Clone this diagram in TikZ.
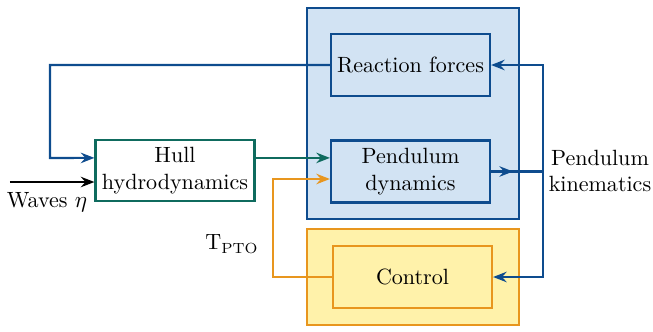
\documentclass[tikz,border=0pt]{standalone}
\usetikzlibrary{arrows.meta,calc}
\definecolor{dblue}{HTML}{0E4C8E}
\definecolor{lblue}{HTML}{D2E3F3}
\definecolor{dgreen}{HTML}{0F6B5E}
\definecolor{orng}{HTML}{E8961E}
\definecolor{lyel}{HTML}{FFF2AA}
\begin{document}
\begin{tikzpicture}[x=0.476pt,y=-0.476pt,
  every node/.style={font=\fontsize{10.5}{12.8}\selectfont},
  blk/.style={draw,line width=1pt,minimum width=75.7pt,minimum height=29.5pt,inner sep=0pt,align=center},
  con/.style={line width=1pt},
  arr/.style={con,-{Stealth[length=6.5pt,width=5pt,inset=2.2pt]}}]
\useasboundingbox (0,0) rectangle (653,331);
\fill[lblue,draw=dblue,line width=1.3pt] (307,8) rectangle (519,219);
\fill[lyel,draw=orng,line width=1.3pt] (307,229) rectangle (519,325);
\node[blk,draw=dblue,fill=lblue] (rf) at (410.5,65) {Reaction forces};
\node[blk,draw=dblue,fill=lblue] (pd) at (410.5,171.5) {Pendulum\\dynamics};
\node[blk,draw=orng,fill=lyel] (ctrl) at (412.5,277) {Control};
\node[blk,draw=dgreen,fill=white,minimum height=29pt] (hull) at (175,170.5) {Hull\\hydrodynamics};
\coordinate (win) at (10,182);
\node (wl) at (47,202) {Waves $\eta$};
\node (tpto) at (232,244) {T$_{\mathrm{PTO}}$};
\node[align=center] (kl) at (600,171) {Pendulum\\kinematics};
\coordinate (kin) at (543,171.5);
% feedback from reaction forces
\draw[arr,dblue] (rf.west) -| (50,158) -- ([yshift=6pt]hull.west);
% waves
\draw[arr,black] (win) -- (win -| hull.west);
% hull -> pendulum
\draw[arr,dgreen] ([yshift=6pt]hull.east) -- ([yshift=6pt]hull.east -| pd.west);
% control -> pendulum
\draw[arr,orng] (ctrl.west) -| (273,179) -- (273,179 -| pd.west);
% kinematics
\draw[con,dblue] (pd.east) -- (kin);
\draw[arr,dblue] (pd.east) -- ++(22,0);
\draw[arr,dblue] (kin) |- (rf.east);
\draw[arr,dblue] (kin) |- (ctrl.east);
\end{tikzpicture}
\end{document}
